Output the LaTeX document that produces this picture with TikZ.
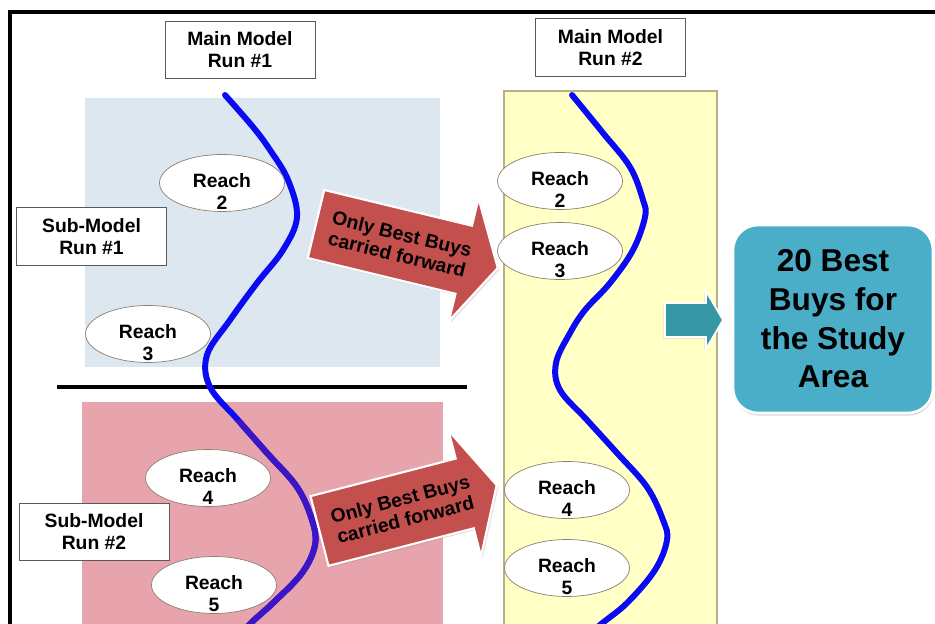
\documentclass[tikz,border=0pt]{standalone}
\usepackage{fontspec}
\setmainfont{Liberation Sans}
\usetikzlibrary{shapes.geometric, shadows}
\definecolor{PaleBlue}{HTML}{DDE7EF}
\definecolor{PalePink}{HTML}{E8A4AC}
\definecolor{PaleYellow}{HTML}{FFFFC6}
\definecolor{YellowEdge}{HTML}{B5B088}
\definecolor{ArrowRed}{HTML}{C4504D}
\definecolor{ArrowTeal}{HTML}{3598A4}
\definecolor{ResultBlue}{HTML}{4BAEC8}
\definecolor{RiverBlue}{HTML}{0A0AF5}
\definecolor{RiverPurple}{HTML}{3C16C4}
\definecolor{EllEdge}{HTML}{8C8070}
\definecolor{BoxEdge}{HTML}{5A5A5A}
\tikzset{
  labelbox/.style={draw=BoxEdge, fill=white, align=center, minimum width=3cm, minimum height=1.15cm, inner sep=2pt, font=\fontsize{11}{12.5}\selectfont\bfseries},
  reachtext/.style={align=center, inner sep=0pt, yshift=-4.8pt, font=\fontsize{11}{12.8}\selectfont\bfseries},
  reach/.style={ellipse, draw=EllEdge, fill=white, minimum width=2.5cm, minimum height=1.14cm, inner sep=0pt, label={[reachtext]center:#1}},
  river/.style={line width=3.4pt, line cap=round},
  redarrow/.style={fill=ArrowRed, draw=white, line width=1.2pt, drop shadow={opacity=0.25, shadow xshift=1pt, shadow yshift=-1pt}},
  tealarrow/.style={fill=ArrowTeal, draw=white, line width=1pt, drop shadow={opacity=0.2, shadow xshift=-1pt, shadow yshift=-1pt}},
  arrowtext/.style={align=center, inner sep=0pt, transform shape, font=\fontsize{11}{12}\selectfont\bfseries},
  resultbox/.style={draw=white, line width=1.5pt, fill=ResultBlue, rounded corners=0.5cm, align=center, minimum width=4cm, minimum height=3.76cm, font=\fontsize{18}{22}\selectfont\bfseries, drop shadow={opacity=0.3, shadow xshift=0.5pt, shadow yshift=-1.5pt}}
}
\begin{document}
\begin{tikzpicture}[x=0.02cm, y=-0.02cm]
\useasboundingbox (0,0) rectangle (935,624);
\clip (0,0) rectangle (935,624);
\fill[white] (0,0) rectangle (935,624);
% frame and panels
\draw[line width=0.07cm] (10,640) -- (10,12) -- (940,12);
\fill[PaleBlue] (85,98) rectangle (440,367);
\fill[PalePink] (82,402) rectangle (443,640);
\filldraw[fill=PaleYellow, draw=YellowEdge, line width=0.8pt] (504,91) rectangle (717,640);
\draw[line width=0.09cm] (57,387) -- (467,387);
% rivers
\draw[river, RiverBlue] plot[smooth, tension=0.6] coordinates {(225,95) (253,127) (270,150) (288,180) (297,217) (283,250) (257,283) (230,320) (207,355) (210,387) (238,420) (267,453) (297,487) (312,520) (315,545) (302,573) (273,603) (250,624) (238,640)};
\begin{scope}
  \clip (0,420) rectangle (935,640);
  \draw[river, RiverPurple] plot[smooth, tension=0.6] coordinates {(225,95) (253,127) (270,150) (288,180) (297,217) (283,250) (257,283) (230,320) (207,355) (210,387) (238,420) (267,453) (297,487) (312,520) (315,545) (302,573) (273,603) (250,624) (238,640)};
\end{scope}
\draw[river, RiverBlue] plot[smooth, tension=0.6] coordinates {(572,95) (603,133) (630,167) (643,200) (645,217) (633,250) (610,283) (585,310) (570,333) (556,363) (560,390) (587,420) (617,453) (647,487) (663,520) (667,540) (655,570) (627,603) (600,625) (585,640)};
% titles
\node[labelbox] (mainone) at (240,50) {Main Model\\Run \#1};
\node[labelbox] (maintwo) at (610.5,47.5) {Main Model\\Run \#2};
\node[labelbox] (subone) at (91.5,236.5) {Sub-Model\\Run \#1};
\node[labelbox] (subtwo) at (94,532) {Sub-Model\\Run \#2};
% reaches, sub-models
\node[reach={Reach\\2}] (subreachtwo) at (222,183) {};
\node[reach={Reach\\3}] (subreachthree) at (148,334) {};
\node[reach={Reach\\4}] (subreachfour) at (208,478) {};
\node[reach={Reach\\5}] (subreachfive) at (214,585) {};
% reaches, main model
\node[reach={Reach\\2}] (mainreachtwo) at (560,181) {};
\node[reach={Reach\\3}] (mainreachthree) at (560,251) {};
\node[reach={Reach\\4}] (mainreachfour) at (567,490) {};
\node[reach={Reach\\5}] (mainreachfive) at (567,568) {};
% carried forward arrows
\begin{scope}[shift={(316,224)}, rotate=-13.6]
  \path[redarrow] (0,-35) -- (152,-35) -- (152,-63) -- (187,0) -- (152,63) -- (152,35) -- (0,35) -- cycle;
  \node[arrowtext] (forwardone) at (86,0) {Only Best Buys\\carried forward};
\end{scope}
\begin{scope}[shift={(319.5,531)}, rotate=14.5]
  \path[redarrow] (0,-36) -- (150,-36) -- (150,-65) -- (183,0) -- (150,65) -- (150,36) -- (0,36) -- cycle;
  \node[arrowtext] (forwardtwo) at (86,0) {Only Best Buys\\carried forward};
\end{scope}
% result
\node[resultbox] (result) at (833,319) {20 Best\\Buys for\\the Study\\Area};
\path[tealarrow] (665,303) -- (706,303) -- (706,291) -- (723,320) -- (706,349) -- (706,337) -- (665,337) -- cycle;
\end{tikzpicture}
\end{document}
